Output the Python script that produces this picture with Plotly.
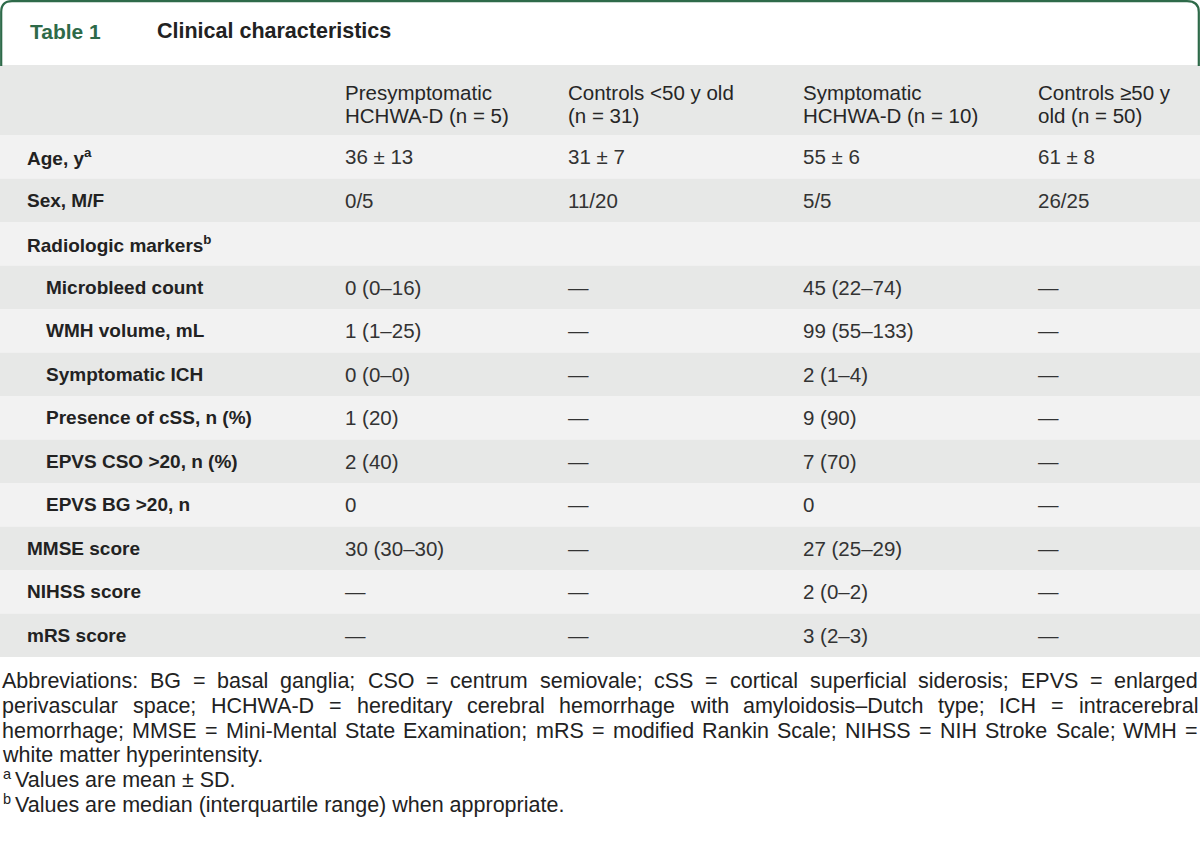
import plotly.graph_objects as go

# ---------------- data ----------------
table_number = "Table 1"
table_title = "Clinical characteristics"

header_line1 = ["Presymptomatic", "Controls &lt;50 y old", "Symptomatic", "Controls ≥50 y"]
header_line2 = ["HCHWA-D (n = 5)", "(n = 31)", "HCHWA-D (n = 10)", "old (n = 50)"]

row_labels = [
    "Age, y<sup>a</sup>",
    "Sex, M/F",
    "Radiologic markers<sup>b</sup>",
    "Microbleed count",
    "WMH volume, mL",
    "Symptomatic ICH",
    "Presence of cSS, n (%)",
    "EPVS CSO &gt;20, n (%)",
    "EPVS BG &gt;20, n",
    "MMSE score",
    "NIHSS score",
    "mRS score",
]
row_indent = [0, 0, 0, 1, 1, 1, 1, 1, 1, 0, 0, 0]

presymptomatic = ["36 ± 13", "0/5", "", "0 (0–16)", "1 (1–25)", "0 (0–0)", "1 (20)",
                  "2 (40)", "0", "30 (30–30)", "—", "—"]
controls_young = ["31 ± 7", "11/20", "", "—", "—", "—", "—", "—", "—", "—", "—", "—"]
symptomatic = ["55 ± 6", "5/5", "", "45 (22–74)", "99 (55–133)", "2 (1–4)", "9 (90)",
               "7 (70)", "0", "27 (25–29)", "2 (0–2)", "3 (2–3)"]
controls_old = ["61 ± 8", "26/25", "", "—", "—", "—", "—", "—", "—", "—", "—", "—"]

abbrev_lines = [
    "Abbreviations: BG = basal ganglia; CSO = centrum semiovale; cSS = cortical superficial siderosis; EPVS = enlarged",
    "perivascular space; HCHWA-D = hereditary cerebral hemorrhage with amyloidosis–Dutch type; ICH = intracerebral",
    "hemorrhage; MMSE = Mini-Mental State Examination; mRS = modified Rankin Scale; NIHSS = NIH Stroke Scale; WMH =",
    "white matter hyperintensity.",
]
footnote_marks = ["a", "b"]
footnote_texts = ["Values are mean ± SD.", "Values are median (interquartile range) when appropriate."]

# ---------------- style ----------------
W, H = 1200, 847
FONT = "Liberation Sans, Arial, Helvetica, sans-serif"
GREEN = "#2e6a49"
DARK = "#e7e8e7"
LIGHT = "#f2f2f2"
LABEL_C = "#222222"
BODY_C = "#333333"

header_top, header_bot = 65, 135
row_h = 43.5
col_x = [344, 567, 802, 1037]
label_x = [26, 45]

# Arial / Liberation Sans advance widths (1/1000 em)
AW = {' ': 278, '!': 278, '%': 889, '(': 333, ')': 333, ',': 278, '-': 333, '.': 278,
      '/': 278, ':': 278, ';': 278, '<': 584, '=': 584, '>': 584, '±': 584, '–': 556,
      '—': 1000, '≥': 549}
for c in '0123456789':
    AW[c] = 556
AW.update(dict(zip("ABCDEFGHIJKLMNOPQRSTUVWXYZ",
                   [667, 667, 722, 722, 667, 611, 778, 722, 278, 500, 667, 556, 833, 722, 778,
                    667, 778, 722, 667, 611, 722, 667, 944, 667, 667, 611])))
AW.update(dict(zip("abcdefghijklmnopqrstuvwxyz",
                   [556, 556, 500, 556, 556, 278, 556, 556, 222, 222, 500, 222, 833, 556, 556,
                    556, 556, 333, 500, 278, 556, 500, 722, 500, 500, 500])))


def tw(s, size):
    return sum(AW.get(c, 556) for c in s) / 1000.0 * size


def ann(x, y, text, size, color, xanchor="left"):
    return dict(x=x, y=y, xref="x", yref="y", text=text, xanchor=xanchor, yanchor="middle",
                showarrow=False, borderpad=0, font=dict(family=FONT, size=size, color=color))


shapes = []
annotations = []

# title box border (rounded top)
shapes.append(dict(type="path", xref="x", yref="y",
                   path="M 1.2,66 L 1.2,12 Q 1.2,1.2 12,1.2 L 1187,1.2 Q 1198.8,1.2 1198.8,12 L 1198.8,66",
                   line=dict(color=GREEN, width=2.2)))
annotations.append(ann(29, 31, "<b>" + table_number + "</b>", 21, GREEN))
annotations.append(ann(156, 31, "<b>" + table_title + "</b>", 21.5, LABEL_C))

# header
shapes.append(dict(type="rect", xref="x", yref="y", x0=0, x1=W, y0=header_top, y1=header_bot,
                   fillcolor=DARK, line=dict(width=0), layer="below"))
for i in range(4):
    annotations.append(ann(col_x[i], 92, header_line1[i], 20.5, "#262626"))
    annotations.append(ann(col_x[i], 115, header_line2[i], 20.5, "#262626"))

# body rows
columns = [presymptomatic, controls_young, symptomatic, controls_old]
for r, lab in enumerate(row_labels):
    y0 = header_bot + r * row_h
    yc = y0 + row_h / 2
    shapes.append(dict(type="rect", xref="x", yref="y", x0=0, x1=W, y0=y0, y1=y0 + row_h,
                       fillcolor=LIGHT if r % 2 == 0 else DARK, line=dict(width=0), layer="below"))
    annotations.append(ann(label_x[row_indent[r]], yc, "<b>" + lab + "</b>", 19, LABEL_C))
    for c, col in enumerate(columns):
        if col[r]:
            annotations.append(ann(col_x[c], yc, col[r], 20.5, BODY_C))

# footnotes
FN_SIZE = 21.5
fn_y0 = 681
fn_dy = 24.8
left, right = 1, 1197
for li, line in enumerate(abbrev_lines):
    yy = fn_y0 + li * fn_dy
    words = line.split(" ")
    if li < len(abbrev_lines) - 1:
        widths = [tw(w, FN_SIZE) for w in words]
        gap = (right - left - sum(widths)) / (len(words) - 1)
        x = left
        for w, wd in zip(words, widths):
            annotations.append(ann(x, yy, w, FN_SIZE, LABEL_C))
            x += wd + gap
    else:
        annotations.append(ann(left, yy, line, FN_SIZE, LABEL_C))
for k, (m, t) in enumerate(zip(footnote_marks, footnote_texts)):
    yy = fn_y0 + (len(abbrev_lines) + k) * fn_dy
    annotations.append(ann(left + 1, yy - 6, m, 14.5, LABEL_C))
    annotations.append(ann(left + 12.5, yy, t, FN_SIZE, LABEL_C))

fig = go.Figure()
fig.update_layout(
    width=W, height=H,
    margin=dict(l=0, r=0, t=0, b=0),
    paper_bgcolor="white", plot_bgcolor="white",
    xaxis=dict(range=[0, W], visible=False, fixedrange=True),
    yaxis=dict(range=[H, 0], visible=False, fixedrange=True),
    shapes=shapes, annotations=annotations,
    showlegend=False,
)
fig.write_html("out.html", config={"displayModeBar": False},
               post_script="document.body.style.margin='0';document.body.style.overflow='hidden';")
